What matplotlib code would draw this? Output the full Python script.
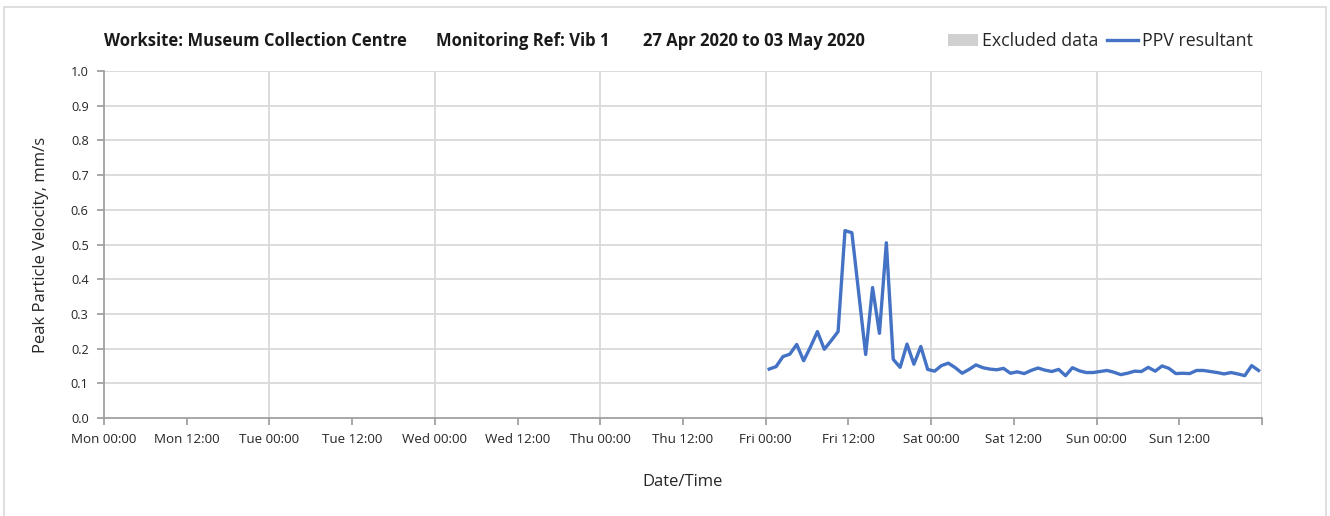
import matplotlib
matplotlib.use("Agg")
import matplotlib.pyplot as plt
from matplotlib.patches import Rectangle, Patch
from matplotlib.lines import Line2D
import numpy as np

plt.rcParams['font.family'] = ['Open Sans', 'DejaVu Sans']

# ---- data ----
tick_hours = list(range(0, 169, 12))
tick_labels = ["Mon 00:00", "Mon 12:00", "Tue 00:00", "Tue 12:00", "Wed 00:00",
               "Wed 12:00", "Thu 00:00", "Thu 12:00", "Fri 00:00", "Fri 12:00",
               "Sat 00:00", "Sat 12:00", "Sun 00:00", "Sun 12:00", ""]
day_hours = list(range(24, 169, 24))

fri_ppv = [0.141, 0.148, 0.177, 0.184, 0.212, 0.165, 0.205, 0.249, 0.198, 0.223,
           0.249, 0.540, 0.534, 0.359, 0.183, 0.376, 0.244, 0.505, 0.169, 0.146,
           0.213, 0.155, 0.206, 0.140]
sat_ppv = [0.135, 0.151, 0.158, 0.145, 0.129, 0.140, 0.153, 0.145, 0.141, 0.139,
           0.143, 0.129, 0.133, 0.128, 0.137, 0.144, 0.138, 0.134, 0.140, 0.122,
           0.145, 0.136, 0.131, 0.131]
sun_ppv = [0.134, 0.137, 0.132, 0.125, 0.129, 0.135, 0.134, 0.146, 0.135, 0.150,
           0.143, 0.128, 0.129, 0.128, 0.137, 0.137, 0.134, 0.131, 0.127, 0.131,
           0.127, 0.122, 0.151, 0.137]
ppv = fri_ppv + sat_ppv + sun_ppv
start_hour = 96.5  # Fri 00:30
hours = [start_hour + i for i in range(len(ppv))]

y_ticks = [0.0, 0.1, 0.2, 0.3, 0.4, 0.5, 0.6, 0.7, 0.8, 0.9, 1.0]

# ---- figure ----
W, H = 1330, 516
fig = plt.figure(figsize=(W / 100, H / 100), dpi=100)
fig.patch.set_facecolor('white')

# outer border
fig.patches.append(Rectangle((4 / W, -0.05), 1322 / W, (H - 7) / H + 0.05,
                             transform=fig.transFigure, fill=False,
                             edgecolor='#d9d9d9', linewidth=1.2))

ax = fig.add_axes([104 / W, (H - 418) / H, (1262 - 104) / W, (418 - 71) / H])
ax.set_xlim(0, 168)
ax.set_ylim(0, 1.0)

grid_c = '#d9d9d9'
axis_c = '#a0a0a0'
for y in y_ticks[1:]:
    ax.axhline(y, color=grid_c, linewidth=1.3, zorder=1)
for d in day_hours:
    ax.axvline(d, color=grid_c, linewidth=1.3, zorder=1)

ax.plot(hours, ppv, color='#4472C4', linewidth=2.4, zorder=3,
        solid_joinstyle='round')

for s in ['top', 'right']:
    ax.spines[s].set_visible(False)
for s in ['left', 'bottom']:
    ax.spines[s].set_color(axis_c)
    ax.spines[s].set_linewidth(1.3)

ax.set_xticks(tick_hours)
ax.set_xticklabels(tick_labels, fontsize=9.6, color='#262626')
ax.set_yticks(y_ticks)
ax.set_yticklabels([f"{v:.1f}" for v in y_ticks], fontsize=9.2, color='#262626')
ax.tick_params(axis='both', color=axis_c, width=1.3, length=5)
ax.tick_params(axis='y', pad=6)
ax.tick_params(axis='x', pad=6)

ax.set_ylabel("Peak Particle Velocity, mm/s", fontsize=12, color='#262626', labelpad=16)
ax.set_xlabel("Date/Time", fontsize=12, color='#262626', labelpad=20)

# title pieces
def px(x, y):
    return x / W, 1 - y / H

fig.text(*px(104, 41), "Worksite: Museum Collection Centre", fontsize=12,
         fontweight='bold', va='center', ha='left', color='#1a1a1a')
fig.text(*px(436, 41), "Monitoring Ref: Vib 1", fontsize=12,
         fontweight='bold', va='center', ha='left', color='#1a1a1a')
fig.text(*px(643, 41), "27 Apr 2020 to 03 May 2020", fontsize=12,
         fontweight='bold', va='center', ha='left', color='#1a1a1a')

handles = [Patch(facecolor='#d0d0d0', edgecolor='none', label='Excluded data'),
           Line2D([0], [0], color='#4472C4', linewidth=2.4, label='PPV resultant')]
fig.legend(handles=handles, loc='center right', bbox_to_anchor=px(1253, 41),
           ncol=2, frameon=False, fontsize=12.8, handlelength=1.7,
           handletextpad=0.25, columnspacing=0.5, borderaxespad=0, borderpad=0,
           labelcolor='#262626')

fig.savefig("out.png", dpi=100)
